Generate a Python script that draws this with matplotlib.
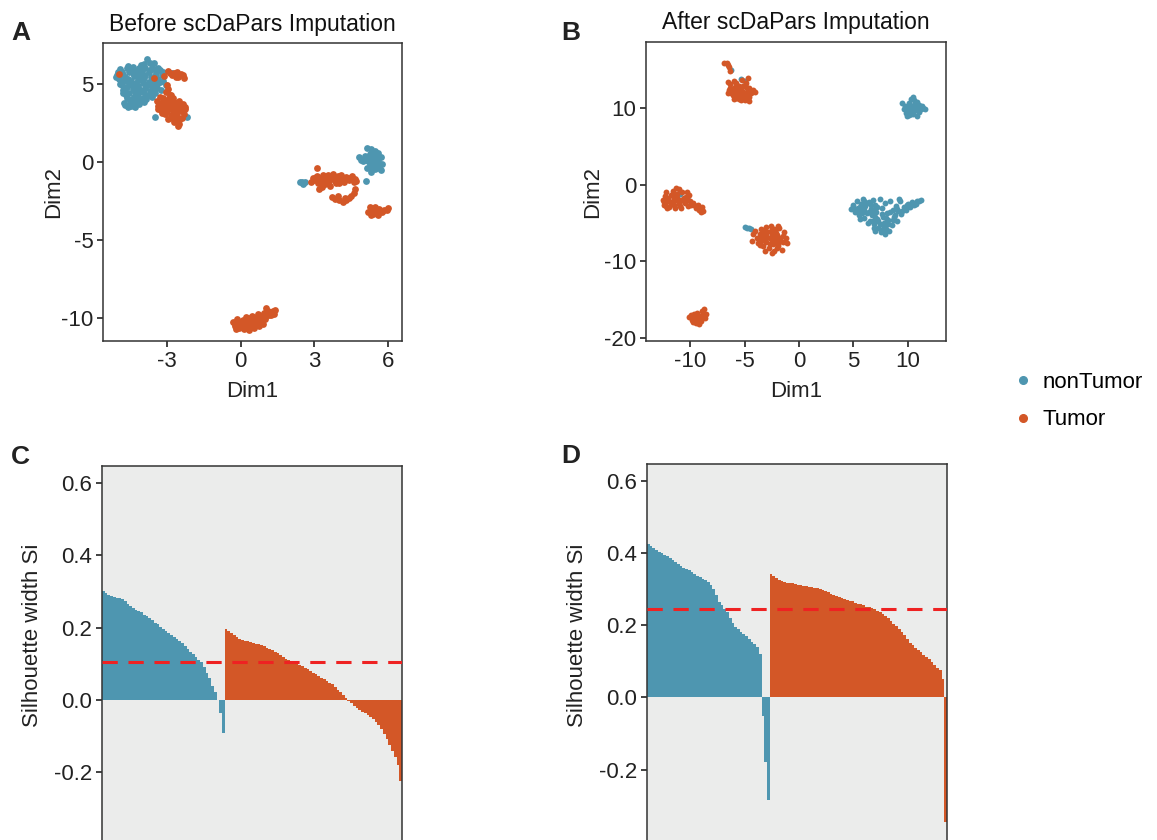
import numpy as np
import matplotlib
matplotlib.use("Agg")
import matplotlib.pyplot as plt
from matplotlib.lines import Line2D

plt.rcParams['font.family'] = ['Liberation Sans', 'DejaVu Sans']
plt.rcParams['axes.unicode_minus'] = False

BLUE = "#4E96B0"
ORANGE = "#D35727"

# ---- panel A: before imputation (Dim1, Dim2) ----
a_blue_x = [-5.10, -5.00, -4.90, -4.80, -4.95, -4.75, -4.85, -4.70, -4.80, -4.65, -4.75, -4.60, -4.45, -4.30,
            -4.15, -4.50, -4.35, -4.55, -4.40, -4.55, -4.60, -4.55, -4.65, -4.40, -4.25, -4.35, -4.20, -4.25,
            -4.10, -4.20, -4.00, -3.95, -3.85, -3.90, -4.00, -3.95, -4.05, -4.05, -3.90, -3.80, -3.70, -3.55,
            -3.60, -3.75, -3.65, -3.75, -3.60, -3.70, -3.50, -3.40, -3.45, -3.35, -3.45, -3.30, -3.20, -3.15,
            -3.05, -3.25, -3.85, -3.60, -4.45, -4.15, -5.05, -4.85, -4.30, -4.10, -3.50, -2.17, -2.78,
            -4.98, -4.88, -4.72, -4.62, -4.48, -4.38, -4.28, -4.18, -4.08, -3.98, -3.88, -3.78, -3.68, -3.58,
            -3.48, -3.38, -3.28, -3.18, -4.92, -4.78, -4.68, -4.52, -4.42, -4.32, -4.22, -4.12, -4.02, -3.92,
            -3.82, -3.72, -3.62, -3.52, -4.58, -4.48, -4.38, -4.28, -4.72, -3.98, -4.18, -3.42,
            5.15, 5.30, 5.45, 5.25, 5.05, 4.80, 4.90, 5.20, 5.40, 5.55, 5.70, 5.60, 5.40, 5.25, 5.55, 5.75,
            5.70, 5.45, 5.30, 5.15, 5.50, 5.35, 5.20, 5.35, 5.50, 5.65, 5.00, 5.45, 5.60,
            5.10, 2.40, 2.50, 2.60, 2.55]
a_blue_y = [5.45, 5.80, 5.95, 5.60, 5.30, 5.20, 4.95, 4.70, 4.40, 4.10, 3.80, 3.55, 3.60, 3.55,
            3.70, 3.95, 4.20, 4.45, 4.70, 5.00, 5.35, 5.75, 6.00, 6.10, 5.85, 5.50, 5.25, 4.95,
            4.60, 4.35, 4.10, 3.85, 4.30, 4.75, 5.05, 5.40, 5.70, 6.20, 6.00, 6.60, 6.35, 6.35,
            6.05, 5.75, 5.45, 5.15, 4.90, 4.55, 4.40, 4.75, 5.10, 5.35, 5.70, 5.90, 5.55, 5.20,
            4.95, 4.60, 4.05, 4.20, 5.90, 6.05, 5.60, 5.75, 4.50, 3.95, 2.88, 2.88, 5.70,
            5.48, 5.12, 5.42, 4.82, 5.22, 4.88, 5.62, 4.72, 5.32, 4.48, 5.58, 4.92, 5.88, 5.28,
            5.52, 6.02, 5.12, 5.78, 5.02, 4.62, 4.28, 3.78, 4.02, 3.82, 4.12, 5.48, 5.92, 6.28,
            5.02, 4.32, 4.62, 5.98, 6.18, 4.98, 5.72, 5.05, 3.68, 4.58, 4.88, 4.98,
            0.90, 0.85, 0.70, 0.55, 0.40, 0.35, 0.15, 0.20, 0.30, 0.45, 0.30, 0.05, 0.00, -0.10, -0.20, -0.15,
            -0.50, -0.45, -0.65, -0.35, -0.05, 0.50, 0.10, -0.30, 0.15, -0.35, 0.05, 0.60, 0.60,
            -1.24, -1.30, -1.25, -1.30, -1.38]
a_orange_x = [-2.95, -2.80, -2.65, -2.50, -2.35, -2.30, -2.60, -2.88, -2.72, -2.42, -2.56, -4.95, -3.55, -3.12,
              -3.00, -2.95, -3.05, -2.90, -3.30, -3.15, -2.75, -3.40, -3.20, -2.95, -2.70, -2.50, -3.35, -3.10,
              -2.85, -2.60, -2.40, -2.25, -3.25, -3.00, -2.75, -2.50, -2.30, -3.10, -2.85, -2.60, -2.40, -2.95,
              -2.70, -2.50, -2.55, -2.80, -2.35, -3.05, -2.65, -3.20,
              -3.28, -3.18, -3.08, -2.98, -2.88, -2.78, -2.68, -2.58, -2.48, -2.38, -2.28, -3.38, -2.92, -2.72,
              -2.52, -3.12, -2.82, -2.62,
              3.12, 2.85, 2.95, 3.10, 3.15, 3.25, 3.35, 3.40, 3.30, 3.55, 3.55, 3.70, 3.75, 3.85, 3.95, 4.05,
              4.10, 4.20, 4.30, 4.40, 4.50, 4.60, 4.70, 3.45, 3.65, 4.00, 4.55, 3.20,
              3.00, 3.20, 3.50, 3.80, 4.15, 4.35, 4.65, 3.60, 3.90, 4.25, 3.05, 3.35,
              3.70, 3.85, 4.00, 4.15, 4.30, 4.40, 4.50, 4.60, 4.65, 3.95, 4.25,
              5.25, 5.35, 5.20, 5.45, 5.55, 5.40, 5.65, 5.75, 5.85, 5.95, 6.00, 5.60, 5.30,
              -0.30, -0.25, -0.15, -0.10, -0.05, 0.05, 0.10, 0.20, 0.25, 0.30, 0.40, 0.45, 0.50, 0.60, 0.65,
              0.70, 0.80, 0.85, 0.95, 1.00, 1.10, 1.15, 1.25, 1.35, 1.40, 0.35, 0.55, 0.15, 0.75, -0.20, 1.05, 0.90,
              -0.22, -0.08, 0.02, 0.12, 0.22, 0.32, 0.42, 0.52, 0.62, 0.72, 0.82, 0.92, 1.02, 1.12, 1.22, 1.32,
              0.08, 0.38, 0.68, 0.98]
a_orange_y = [5.85, 5.55, 5.45, 5.60, 5.55, 5.40, 5.80, 5.72, 5.68, 5.62, 5.42, 5.66, 5.38, 5.53,
              4.95, 4.70, 4.50, 4.30, 4.20, 4.10, 4.10, 3.90, 3.80, 3.95, 3.85, 3.90, 3.60, 3.55,
              3.65, 3.60, 3.55, 3.40, 3.35, 3.30, 3.35, 3.25, 3.10, 3.05, 3.00, 2.95, 2.80, 2.75,
              2.60, 2.45, 2.30, 2.85, 3.70, 3.85, 3.10, 3.15,
              3.72, 3.48, 3.68, 3.42, 3.82, 3.52, 3.72, 3.38, 3.62, 3.28, 3.52, 3.42, 4.12, 3.18,
              2.72, 3.92, 4.28, 2.82,
              -0.38, -1.30, -1.05, -0.90, -1.35, -1.15, -0.80, -1.00, -1.60, -0.85, -1.25, -1.05, -0.75, -1.20,
              -0.90, -1.10, -0.80, -1.25, -0.95, -1.15, -1.05, -1.30, -1.20, -1.40, -1.50, -1.35, -0.90, -1.75,
              -1.15, -1.05, -1.10, -1.00, -1.00, -1.05, -1.10, -1.20, -1.35, -1.10, -0.95, -1.25,
              -2.25, -2.35, -2.40, -2.55, -2.45, -2.30, -2.15, -1.95, -1.75, -2.20, -2.30,
              -2.90, -3.05, -3.20, -2.85, -3.10, -3.30, -3.00, -3.20, -3.05, -3.10, -2.95, -3.40, -3.40,
              -10.25, -10.50, -10.05, -10.35, -10.60, -10.15, -10.45, -9.95, -10.30, -10.60, -10.10, -9.85,
              -10.40, -10.00, -10.25, -9.75, -9.95, -10.20, -9.65, -9.90, -9.55, -9.80, -9.60, -9.70, -9.45,
              -10.75, -10.65, -10.70, -10.50, -10.70, -9.35, -10.40,
              -10.38, -10.22, -10.40, -10.58, -10.12, -10.42, -10.28, -10.18, -10.38, -10.05, -10.10, -9.82,
              -9.72, -9.68, -9.82, -9.52, -10.10, -9.98, -9.92, -10.05]

# ---- panel B: after imputation ----
b_blue_x = [-6.20, -5.30, -5.00,
            9.50, 9.70, 9.60, 9.80, 10.00, 10.10, 10.30, 10.50, 10.40, 10.60, 10.30, 10.70, 10.80, 11.00,
            11.00, 11.20, 11.40, 11.60, 10.10, 10.80, 9.90, 10.60,
            10.20, 10.40, 10.60, 10.90, 10.50, 10.20, 10.70, 11.30,
            -10.90, -10.20, -5.00, -4.80, -4.60, -4.45,
            4.80, 5.00, 5.10, 5.30, 5.40, 5.50, 5.70, 5.80, 5.90, 6.00, 6.10, 6.20, 6.40, 6.50, 6.60, 6.70,
            6.80, 6.90, 7.00, 7.10, 7.20, 7.30, 7.40, 7.50, 7.60, 7.70, 7.80, 7.90, 8.00, 8.10, 8.20, 8.30,
            8.40, 8.50, 8.60, 8.70, 8.90, 9.00, 9.10, 9.30, 9.40, 9.60, 9.80, 10.00, 10.20, 10.40, 10.60,
            10.80, 11.00, 11.20, 5.60, 6.30, 7.00, 7.90, 9.20, 6.80,
            5.20, 5.60, 6.00, 6.40, 6.80, 7.20, 7.60, 8.00, 8.40, 8.80, 5.40, 5.80, 6.20, 6.60, 7.00,
            7.40, 7.80, 8.20, 8.60, 9.00, 9.50, 9.90, 10.30, 10.70, 6.90, 7.30, 7.70, 8.10, 6.00, 5.00]
b_blue_y = [14.90, 13.80, 13.50,
            10.70, 10.30, 9.80, 9.40, 10.00, 10.60, 11.20, 11.40, 10.30, 9.60, 9.20, 10.10, 10.80, 10.40,
            9.50, 9.90, 10.00, 9.90, 9.10, 9.00, 9.00, 11.00,
            9.70, 9.90, 10.40, 9.80, 9.20, 10.30, 10.60, 10.20,
            -1.26, -1.96, -5.55, -5.60, -5.70, -5.85,
            -3.20, -2.60, -3.60, -2.20, -3.00, -4.00, -2.50, -3.40, -1.90, -4.30, -2.80, -3.70, -2.30, -4.80,
            -3.20, -4.00, -2.00, -5.20, -2.70, -3.60, -4.50, -5.60, -1.90, -6.20, -3.10, -4.20, -5.00, -2.40,
            -5.80, -3.70, -4.60, -6.10, -2.10, -5.30, -3.30, -4.20, -2.80, -4.70, -3.50, -2.20, -3.80, -2.90,
            -3.30, -2.50, -2.90, -2.30, -2.60, -2.20, -2.10, -2.00, -4.50, -5.00, -6.00, -6.40, -1.90, -4.70,
            -3.30, -2.90, -3.30, -3.60, -3.30, -2.90, -3.80, -4.40, -3.60, -3.90, -3.60, -3.70, -2.40, -2.70,
            -4.20, -5.10, -5.50, -5.20, -4.60, -3.20, -3.40, -2.70, -2.60, -2.50, -5.60, -4.80, -5.80, -4.90,
            -2.20, -2.90]
b_orange_x = [-6.85, -6.65, -6.50, -6.40, -6.30, -6.55, -6.30, -6.00, -5.75, -5.50, -6.45, -6.20, -5.95,
              -5.70, -5.40, -5.15, -4.90, -4.85, -4.60, -4.25, -4.00, -6.50, -6.10, -5.85, -5.60, -5.35,
              -5.10, -4.80, -5.80, -5.50, -5.25, -4.95, -4.55, -4.60, -5.35, -6.00, -5.20, -4.70, -5.50, -5.00,
              -6.20, -5.90, -5.60, -5.30, -5.00, -4.70, -6.00, -5.70, -5.40, -5.10, -4.80, -4.40, -6.30, -5.50,
              -5.80,
              -12.50, -12.30, -12.40, -12.10, -12.00, -11.80, -11.60, -11.70, -11.50, -11.40, -11.20, -11.00,
              -11.10, -10.90, -10.70, -10.60, -10.50, -10.30, -10.20, -10.10, -10.00, -11.30, -10.80, -9.70,
              -9.50, -9.30, -9.20, -9.00, -8.80, -8.90, -12.20, -11.90,
              -12.40, -12.00, -11.60, -11.20, -10.80, -10.40, -12.20, -11.80, -11.40, -11.00, -10.60, -9.90,
              -9.60, -11.50, -10.30,
              -4.20, -4.00, -3.90, -3.80, -3.60, -3.50, -3.40, -3.30, -3.20, -3.00, -3.00, -2.90, -2.80, -2.70,
              -2.60, -2.50, -2.40, -2.30, -2.20, -2.10, -2.00, -1.90, -1.80, -1.70, -1.50, -1.40, -1.20, -1.10,
              -3.60, -2.50, -3.10, -1.60, -2.30, -1.90, -4.30,
              -3.70, -3.30, -2.90, -2.50, -2.10, -1.70, -3.50, -3.10, -2.70, -2.30, -1.90, -1.50, -2.60, -2.00,
              -3.20,
              -10.10, -9.90, -9.80, -9.60, -9.50, -9.40, -9.30, -9.10, -9.00, -8.90, -8.70, -8.60, -8.50,
              -9.70, -9.20, -9.80, -9.50, -9.20, -8.90, -9.60, -9.10]
b_orange_y = [15.85, 15.80, 15.55, 15.30, 14.80, 13.40, 13.10, 13.50, 13.30, 12.90, 12.40, 12.20, 12.60,
              12.40, 12.50, 12.80, 13.30, 12.70, 12.60, 12.30, 12.10, 11.90, 11.70, 11.90, 11.70, 11.90,
              12.10, 12.00, 11.30, 11.20, 11.40, 11.60, 11.40, 10.95, 11.00, 11.20, 13.60, 13.90, 11.60, 11.10,
              12.00, 12.20, 12.10, 12.30, 11.90, 12.30, 11.50, 12.80, 12.10, 11.70, 11.40, 12.00, 12.60, 11.40,
              13.00,
              -2.00, -1.50, -2.60, -3.00, -2.20, -1.40, -0.80, -2.50, -1.80, -3.00, -1.20, -0.60,
              -2.20, -2.80, -1.00, -1.70, -2.40, -0.90, -2.80, -1.40, -2.10, -0.50, -3.10, -2.40,
              -3.00, -2.60, -3.30, -3.60, -3.50, -2.90, -0.90, -2.90,
              -2.30, -1.80, -2.20, -1.70, -2.00, -1.60, -2.80, -2.40, -1.30, -2.50, -2.20, -2.60,
              -2.70, -2.60, -1.90,
              -6.50, -6.10, -7.00, -7.60, -6.40, -5.80, -7.20, -8.00, -6.80, -5.50, -7.50, -6.20, -8.30, -7.00,
              -5.40, -6.40, -7.80, -8.60, -6.00, -7.20, -6.60, -8.00, -5.60, -6.90, -7.50, -6.20, -7.00, -7.60,
              -7.90, -8.90, -8.60, -8.50, -5.80, -5.40, -7.30,
              -6.90, -6.30, -6.80, -7.30, -6.30, -7.40, -7.40, -7.10, -7.80, -6.90, -7.70, -6.70, -6.10, -8.30,
              -5.90,
              -17.30, -17.00, -17.60, -17.30, -18.00, -16.80, -17.50, -17.10, -17.80, -16.50, -16.20, -17.40,
              -16.90, -17.90, -18.20, -17.20, -17.60, -17.30, -17.20, -16.90, -17.60]

# ---- silhouette widths, sorted within cluster ----
c_non = [0.300, 0.295, 0.290, 0.288, 0.285, 0.283, 0.281, 0.278, 0.273, 0.266, 0.259, 0.253, 0.249, 0.246,
         0.242, 0.236, 0.231, 0.226, 0.220, 0.214, 0.209, 0.203, 0.197, 0.191, 0.186, 0.181, 0.175, 0.169,
         0.164, 0.158, 0.150, 0.142, 0.134, 0.127, 0.119, 0.111, 0.104, 0.092, 0.076, 0.060, 0.040, 0.021,
         0.000, -0.035, -0.090]
c_tum = [0.195, 0.190, 0.185, 0.179, 0.173, 0.169, 0.166, 0.164, 0.162, 0.160, 0.158, 0.156, 0.154, 0.152,
         0.149, 0.145, 0.141, 0.138, 0.134, 0.130, 0.125, 0.119, 0.114, 0.110, 0.107, 0.104, 0.101, 0.098,
         0.094, 0.089, 0.085, 0.080, 0.076, 0.071, 0.066, 0.062, 0.057, 0.052, 0.048, 0.043, 0.037, 0.029,
         0.021, 0.013, 0.005, -0.002, -0.009, -0.016, -0.022, -0.027, -0.032, -0.037, -0.042, -0.047, -0.053,
         -0.060, -0.068, -0.080, -0.094, -0.108, -0.124, -0.140, -0.158, -0.180, -0.225]
c_mean = 0.105

d_non = [0.425, 0.421, 0.415, 0.409, 0.404, 0.401, 0.396, 0.391, 0.386, 0.381, 0.375, 0.370, 0.365, 0.360,
         0.356, 0.352, 0.348, 0.342, 0.337, 0.333, 0.329, 0.325, 0.321, 0.312, 0.300, 0.283, 0.265, 0.255,
         0.246, 0.236, 0.221, 0.206, 0.196, 0.189, 0.182, 0.176, 0.169, 0.163, 0.155, 0.148, 0.140, 0.120,
         -0.050, -0.180, -0.285]
d_tum = [0.342, 0.336, 0.330, 0.325, 0.322, 0.320, 0.318, 0.317, 0.316, 0.315, 0.313, 0.311, 0.310, 0.309,
         0.307, 0.306, 0.304, 0.302, 0.300, 0.297, 0.294, 0.291, 0.288, 0.285, 0.282, 0.279, 0.276, 0.274,
         0.271, 0.268, 0.266, 0.263, 0.260, 0.258, 0.255, 0.252, 0.250, 0.247, 0.245, 0.241, 0.236, 0.231,
         0.226, 0.219, 0.212, 0.205, 0.197, 0.190, 0.182, 0.172, 0.161, 0.151, 0.145, 0.138, 0.132, 0.126,
         0.118, 0.112, 0.106, 0.098, 0.090, 0.083, 0.076, 0.050, -0.345]
d_mean = 0.244

W, H = 1157, 840
fig = plt.figure(figsize=(W / 100, H / 100), dpi=100)
TXT = "#222222"


def px_axes(left, top, right, bottom):
    return fig.add_axes([left / W, 1 - bottom / H, (right - left) / W, (bottom - top) / H])


def style(ax):
    for s in ax.spines.values():
        s.set_color("#333333")
        s.set_linewidth(1.1)
    ax.tick_params(length=4, width=1.3, color="#333333", labelsize=16, labelcolor=TXT, pad=3)


def scatter_panel(ax, bx, by, ox, oy, title, xlim, ylim, xt, yt, size, ypad):
    ax.scatter(bx, by, s=size, color=BLUE, linewidths=0, zorder=2)
    ax.scatter(ox, oy, s=size, color=ORANGE, linewidths=0, zorder=3)
    ax.set_xlim(*xlim)
    ax.set_ylim(*ylim)
    ax.set_xticks(xt)
    ax.set_yticks(yt)
    ax.set_xlabel("Dim1", fontsize=16, color=TXT, labelpad=7)
    ax.set_ylabel("Dim2", fontsize=16, color=TXT, labelpad=ypad)
    ax.set_title(title, fontsize=16.5, color="#111111", pad=9)
    style(ax)


def sil_panel(ax, non, tum, mean, label_x, label_y):
    ax.set_facecolor("#EBECEB")
    n1 = len(non)
    for vals, start, col in [(non, 0, BLUE), (tum, n1, ORANGE)]:
        x = np.arange(start, start + len(vals) + 1)
        y = np.append(vals, vals[-1])
        ax.fill_between(x, 0, y, step="post", color=col, linewidth=0)
    ax.axhline(mean, color="#EE2222", lw=2.2, ls=(0, (5, 3.5)), zorder=3)
    ax.set_xlim(0, n1 + len(tum))
    ax.set_ylim(-0.6, 0.647)
    ax.set_yticks([-0.2, 0.0, 0.2, 0.4, 0.6])
    ax.set_yticklabels(["-0.2", "0.0", "0.2", "0.4", "0.6"])
    ax.set_xticks([])
    ax.set_ylabel("Silhouette width Si", fontsize=16, color=TXT)
    ax.yaxis.set_label_coords(label_x, label_y)
    style(ax)


axA = px_axes(103, 43, 402, 341)
scatter_panel(axA, a_blue_x, a_blue_y, a_orange_x, a_orange_y, "Before scDaPars Imputation",
              (-5.61, 6.57), (-11.46, 7.63), [-3, 0, 3, 6], [-10, -5, 0, 5], 24, -2)

axB = px_axes(646, 42, 946, 341)
scatter_panel(axB, b_blue_x, b_blue_y, b_orange_x, b_orange_y, "After scDaPars Imputation",
              (-14.05, 13.5), (-20.4, 18.6), [-10, -5, 0, 5, 10], [-20, -10, 0, 10], 18, 0.5)

axC = px_axes(102, 466, 402, 917)
sil_panel(axC, c_non, c_tum, c_mean, -0.195, (917 - 635) / (917 - 466))

axD = px_axes(647, 464, 947, 914)
sil_panel(axD, d_non, d_tum, d_mean, -0.198, (914 - 635) / (914 - 464))

for lab, x, y in [("A", 11, 33), ("B", 561, 33), ("C", 11, 457), ("D", 561, 456)]:
    fig.text(x / W, 1 - y / H, lab, fontsize=19, fontweight="bold", color=TXT, va="center", ha="left")

handles = [Line2D([], [], ls="", marker="o", ms=5.5, color=BLUE, label="nonTumor"),
           Line2D([], [], ls="", marker="o", ms=5.5, color=ORANGE, label="Tumor")]
fig.legend(handles=handles, loc="center left", bbox_to_anchor=(1001 / W, 1 - 401 / H), frameon=False,
           fontsize=16, handletextpad=0.25, labelspacing=0.75, handlelength=1.2, borderaxespad=0)

fig.savefig("out.png", dpi=100)
